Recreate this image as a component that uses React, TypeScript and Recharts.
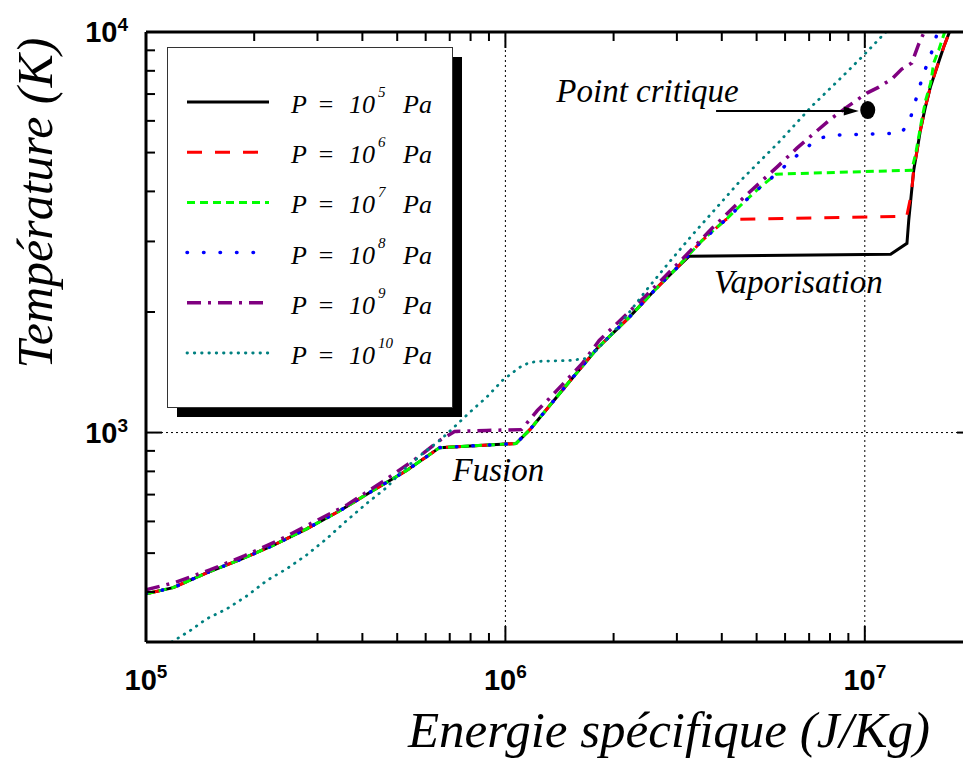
import { LineChart, Line, XAxis, YAxis, ReferenceLine, ReferenceDot, Legend } from "recharts";

type Pt = [number, number];

// [énergie spécifique (J/Kg), température (K)]
// branche commune solide / liquide (P = 1e5 .. 1e8 Pa)
const LOW_BRANCH: Pt[] = [
  [1.0e5, 396], [1.19e5, 410], [1.48e5, 447], [1.82e5, 481], [2.25e5, 522], [2.8e5, 575],
  [3.46e5, 638], [4.27e5, 716], [5.31e5, 804], [6.56e5, 917], [1.07e6, 939], [1.17e6, 1017],
  [1.51e6, 1343], [1.8e6, 1622], [2.21e6, 1939], [2.63e6, 2291], [2.99e6, 2570],
];

// montée du gaz après vaporisation
const GAS_BRANCH: Pt[] = [
  [1.348e7, 3959], [1.368e7, 4519], [1.398e7, 5070], [1.428e7, 5689], [1.474e7, 6494],
  [1.522e7, 7285], [1.588e7, 8176], [1.658e7, 9173], [1.72e7, 10000],
];

const P1E5_TAIL: Pt[] = [[3.24e6, 2754], [1.18e7, 2786], [1.31e7, 2968], [1.325e7, 3388]];

const P1E6_TAIL: Pt[] = [[3.53e6, 3020], [4.11e6, 3404], [1.308e7, 3467]];

const P1E7_TAIL: Pt[] = [
  [3.53e6, 3020], [4.11e6, 3404], [4.67e6, 3802], [5.08e6, 4074], [5.66e6, 4416],
  [1.351e7, 4519], [1.386e7, 4983], [1.44e7, 6026], [1.477e7, 6761], [1.525e7, 7459],
  [1.555e7, 8366], [1.606e7, 9016], [1.658e7, 9829], [1.668e7, 10000],
];

const P1E8_TAIL: Pt[] = [
  [3.53e6, 3020], [4.11e6, 3404], [4.67e6, 3802], [5.08e6, 4074], [5.66e6, 4416],
  [6.03e6, 4650], [6.68e6, 5041], [7.45e6, 5433], [8.31e6, 5527], [1.026e7, 5559],
  [1.267e7, 5592], [1.342e7, 6130], [1.386e7, 6761], [1.431e7, 7459], [1.477e7, 8128],
  [1.535e7, 8913], [1.585e7, 9829], [1.6e7, 10000],
];

const P1E9: Pt[] = [
  [1.0e5, 405], [1.2e5, 422], [1.506e5, 454], [1.884e5, 493], [2.356e5, 540], [2.909e5, 596],
  [3.64e5, 661], [4.553e5, 754], [5.696e5, 866], [6.56e5, 955], [7.22e5, 1006], [8.86e5, 1012],
  [1.108e6, 1017], [1.227e6, 1135], [1.325e6, 1216], [1.636e6, 1488], [1.824e6, 1698],
  [2.464e6, 2200], [3.083e6, 2692], [3.758e6, 3236], [4.612e6, 3868], [5.695e6, 4599],
  [6.474e6, 5129], [7.127e6, 5527], [8.098e6, 6095], [8.913e6, 6494], [1.013e7, 7037],
  [1.094e7, 7285], [1.189e7, 7632], [1.267e7, 8080], [1.351e7, 8366], [1.413e7, 9333],
  [1.459e7, 9943],
];

const P1E10: Pt[] = [
  [1.18e5, 300], [1.325e5, 320], [1.477e5, 343], [1.679e5, 363], [1.908e5, 391], [2.168e5, 427],
  [2.464e5, 457], [2.8e5, 495], [3.18e5, 543], [3.617e5, 603], [4.11e5, 665], [4.671e5, 729],
  [5.175e5, 804], [5.882e5, 886], [6.557e5, 955], [7.127e5, 1023], [7.943e5, 1122],
  [8.856e5, 1224], [9.81e5, 1349], [1.094e6, 1454], [1.166e6, 1496], [1.243e6, 1506],
  [1.506e6, 1514], [1.679e6, 1531], [1.789e6, 1603], [1.983e6, 1768], [2.211e6, 1995],
  [2.464e6, 2265], [2.855e6, 2661], [3.307e6, 3110], [3.856e6, 3631], [4.467e6, 4217],
  [5.769e6, 5309], [7.127e6, 6531], [8.856e6, 7896], [1.006e7, 8860], [1.144e7, 10000],
];

const X_DOMAIN: [number, number] = [1e5, 2e7];
const Y_DOMAIN: [number, number] = [300, 1e4];
const X_TICKS = [
  1e5, 2e5, 3e5, 4e5, 5e5, 6e5, 7e5, 8e5, 9e5, 1e6, 2e6, 3e6, 4e6, 5e6, 6e6, 7e6, 8e6, 9e6, 1e7, 2e7,
];
const Y_TICKS = [400, 500, 600, 700, 800, 900, 1000, 2000, 3000, 4000, 5000, 6000, 7000, 8000, 9000, 10000];
const GRID_X = [1e6, 1e7];
const GRID_Y = [1e3];

const CRITICAL_POINT: Pt = [1.019e7, 6383];
const ARROW_E = [3.856e6, 9.62e6];
const ARROW_T = 6346;

const NOTES = [
  { text: "Point critique", at: [1.386e6, 6683] as Pt },
  { text: "Vaporisation", at: [3.807e6, 2226] as Pt },
  { text: "Fusion", at: [7.127e5, 759] as Pt },
];

const SERIES = [
  { exp: 5, pts: [...LOW_BRANCH, ...P1E5_TAIL, ...GAS_BRANCH], color: "#000000", width: 3, dash: undefined, cap: "butt" },
  { exp: 6, pts: [...LOW_BRANCH, ...P1E6_TAIL, ...GAS_BRANCH], color: "#ff0000", width: 3, dash: "15 13", cap: "butt" },
  { exp: 7, pts: [...LOW_BRANCH, ...P1E7_TAIL], color: "#00ff00", width: 3, dash: "8 5", cap: "butt" },
  { exp: 8, pts: [...LOW_BRANCH, ...P1E8_TAIL], color: "#0000ff", width: 3.5, dash: "0.5 16", cap: "round" },
  { exp: 9, pts: P1E9, color: "#800080", width: 3.5, dash: "14 7 3 7", cap: "butt" },
  { exp: 10, pts: P1E10, color: "#008080", width: 2.8, dash: "0.5 6.8", cap: "round" },
];

const AXIS_LINE = { stroke: "#000", strokeWidth: 3 };
const TICK_FONT = { fontFamily: "'Liberation Sans', Arial, sans-serif", fontWeight: 700, fontSize: 29, fill: "#000" };
const SERIF_IT = { fontFamily: "'Liberation Serif', 'DejaVu Serif', serif", fontStyle: "italic", fill: "#000" };

const isMajor = (v: number) => Math.abs(Math.log10(v) - Math.round(Math.log10(v))) < 1e-6;

function makeTick(side: "bottom" | "top" | "left" | "right") {
  return (props: any) => {
    const { x, y, payload } = props;
    const v = payload.value;
    const major = isMajor(v);
    const len = major ? 16 : 9;
    const dx = side === "left" ? len : side === "right" ? -len : 0;
    const dy = side === "bottom" ? -len : side === "top" ? len : 0;
    const exp = Math.round(Math.log10(v));
    return (
      <g>
        <line x1={x} y1={y} x2={x + dx} y2={y + dy} stroke="#000" strokeWidth={2} />
        {major && side === "bottom" && (
          <text x={x} y={y + 48} textAnchor="middle" style={TICK_FONT}>
            10<tspan dy={-12} fontSize={19}>{exp}</tspan>
          </text>
        )}
        {major && side === "left" && (
          <text x={x - 18} y={y + 10} textAnchor="end" style={TICK_FONT}>
            10<tspan dy={-11} fontSize={19}>{exp}</tspan>
          </text>
        )}
      </g>
    );
  };
}

function LegendBox() {
  return (
    <svg width={300} height={375} style={{ display: "block" }}>
      <rect x={10} y={10} width={285} height={360} fill="#000" />
      <rect x={0.5} y={0.5} width={285} height={360} fill="#fff" stroke="#333" />
      {SERIES.map((s, i) => {
        const cy = 55 + i * 50.2;
        return (
          <g key={s.exp}>
            <line x1={20} x2={102} y1={cy} y2={cy} stroke={s.color} strokeWidth={s.width}
              strokeDasharray={s.dash} strokeLinecap={s.cap as any} />
            <text y={cy + 11} style={{ ...SERIF_IT, fontSize: 26 }}>
              <tspan x={124}>P</tspan>
              <tspan x={150}>=</tspan>
              <tspan x={182}>10</tspan>
              <tspan x={211} dy={-16} fontSize={15}>{s.exp}</tspan>
              <tspan x={236} dy={16}>Pa</tspan>
            </text>
          </g>
        );
      })}
    </svg>
  );
}

export default function App() {
  return (
    <div style={{ position: "absolute", left: 0, top: 0, width: 963, height: 762, overflow: "hidden", background: "#fff" }}>
      <LineChart width={980} height={762} margin={{ top: 0, right: 0, bottom: 0, left: 0 }}>
        <XAxis xAxisId="bottom" orientation="bottom" dataKey="E" type="number" scale="log" domain={X_DOMAIN}
          allowDataOverflow ticks={X_TICKS} interval={0} tick={makeTick("bottom")} tickLine={false}
          tickSize={0} tickMargin={0} axisLine={AXIS_LINE} height={120} />
        <XAxis xAxisId="top" orientation="top" dataKey="E" type="number" scale="log" domain={X_DOMAIN}
          allowDataOverflow ticks={X_TICKS} interval={0} tick={makeTick("top")} tickLine={false}
          tickSize={0} tickMargin={0} axisLine={AXIS_LINE} height={32} />
        <YAxis yAxisId="left" orientation="left" type="number" scale="log" domain={Y_DOMAIN}
          allowDataOverflow ticks={Y_TICKS} interval={0} tick={makeTick("left")} tickLine={false}
          tickSize={0} tickMargin={0} axisLine={AXIS_LINE} width={146} />
        <YAxis yAxisId="right" orientation="right" type="number" scale="log" domain={Y_DOMAIN}
          allowDataOverflow ticks={Y_TICKS} interval={0} tick={makeTick("right")} tickLine={false}
          tickSize={0} tickMargin={0} axisLine={AXIS_LINE} width={7} />

        {GRID_X.map((v) => (
          <ReferenceLine key={`gx${v}`} xAxisId="bottom" yAxisId="left" x={v} stroke="#000" strokeWidth={1} strokeDasharray="2 3" />
        ))}
        {GRID_Y.map((v) => (
          <ReferenceLine key={`gy${v}`} xAxisId="bottom" yAxisId="left" y={v} stroke="#000" strokeWidth={1} strokeDasharray="2 3" />
        ))}

        {SERIES.map((s) => (
          <Line key={s.exp} xAxisId="bottom" yAxisId="left" name={`P = 10^${s.exp} Pa`}
            data={s.pts.map(([E, T]) => ({ E, T }))} dataKey="T" type="linear"
            stroke={s.color} strokeWidth={s.width} strokeDasharray={s.dash} strokeLinecap={s.cap as any}
            dot={false} activeDot={false} isAnimationActive={false} />
        ))}

        <ReferenceLine xAxisId="bottom" yAxisId="left"
          segment={[{ x: ARROW_E[0], y: ARROW_T }, { x: ARROW_E[1], y: ARROW_T }]}
          shape={(p: any) => (
            <g>
              <line x1={p.x1} y1={p.y1} x2={p.x2 - 12} y2={p.y2} stroke="#000" strokeWidth={2} />
              <polygon points={`${p.x2},${p.y2} ${p.x2 - 15},${p.y2 - 4.5} ${p.x2 - 15},${p.y2 + 4.5}`} fill="#000" />
            </g>
          )} />
        <ReferenceDot xAxisId="bottom" yAxisId="left" x={CRITICAL_POINT[0]} y={CRITICAL_POINT[1]}
          shape={(p: any) => <ellipse cx={p.cx} cy={p.cy} rx={7.5} ry={9} fill="#000" />} />
        {NOTES.map((n) => (
          <ReferenceDot key={n.text} xAxisId="bottom" yAxisId="left" x={n.at[0]} y={n.at[1]}
            shape={(p: any) => (
              <text x={p.cx} y={p.cy} style={{ ...SERIF_IT, fontSize: 33 }}>{n.text}</text>
            )} />
        ))}

        <text x={669} y={747} textAnchor="middle" style={{ ...SERIF_IT, fontSize: 51 }}>
          Energie spécifique (J/Kg)
        </text>
        <text transform="translate(52,203) rotate(-90)" textAnchor="middle" style={{ ...SERIF_IT, fontSize: 50 }}>
          Température (K)
        </text>

        <Legend layout="vertical" align="center" verticalAlign="middle" width={300} height={375}
          wrapperStyle={{ left: 167, top: 47 }} content={() => <LegendBox />} />
      </LineChart>
    </div>
  );
}
